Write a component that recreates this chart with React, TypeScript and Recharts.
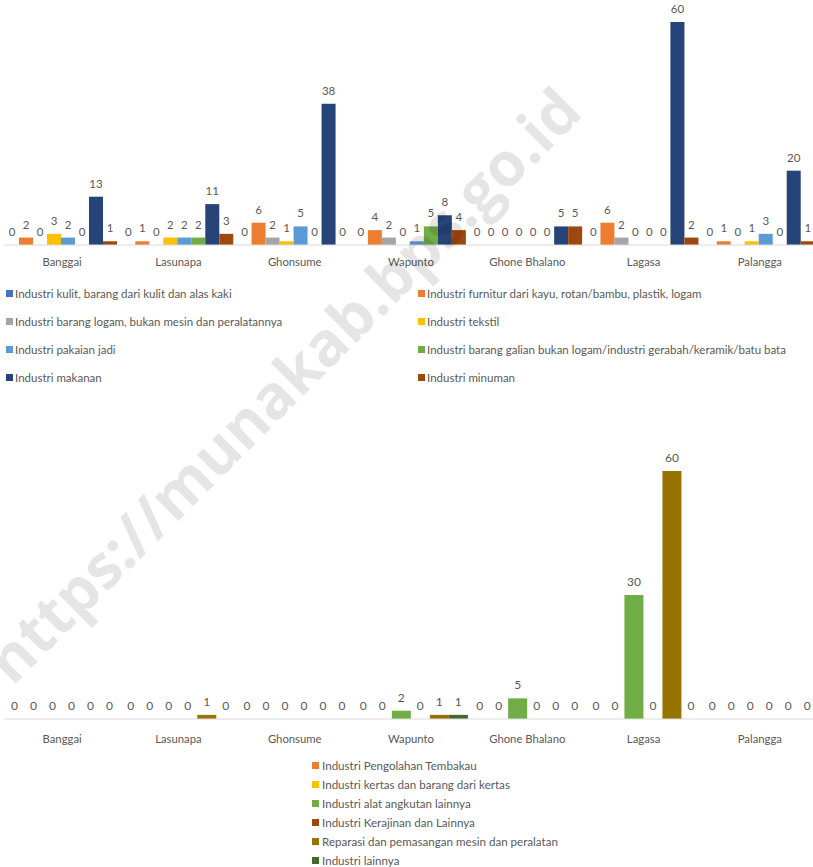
import React from 'react';
import { BarChart, Bar, XAxis, YAxis } from 'recharts';

const villages = ['Banggai', 'Lasunapa', 'Ghonsume', 'Wapunto', 'Ghone Bhalano', 'Lagasa', 'Palangga'];

// first chart: industries per village
const kulit = [0, 0, 0, 0, 0, 0, 0];
const furnitur = [2, 1, 6, 4, 0, 6, 1];
const logam = [0, 0, 2, 2, 0, 2, 0];
const tekstil = [3, 2, 1, 0, 0, 0, 1];
const pakaian = [2, 2, 5, 1, 0, 0, 3];
const galian = [0, 2, 0, 5, 0, 0, 0];
const makanan = [13, 11, 38, 8, 5, 60, 20];
const minuman = [1, 3, 0, 4, 5, 2, 1];

// second chart
const tembakau = [0, 0, 0, 0, 0, 0, 0];
const kertas = [0, 0, 0, 0, 0, 0, 0];
const angkutan = [0, 0, 0, 2, 5, 30, 0];
const kerajinan = [0, 0, 0, 0, 0, 0, 0];
const reparasi = [0, 1, 0, 1, 0, 60, 0];
const lainnya = [0, 0, 0, 1, 0, 0, 0];

const topSeries = [
  { key: 'kulit', name: 'Industri kulit, barang dari kulit dan alas kaki', values: kulit, color: '#4472C4' },
  { key: 'furnitur', name: 'Industri furnitur dari kayu, rotan/bambu, plastik, logam', values: furnitur, color: '#ED7D31' },
  { key: 'logam', name: 'Industri barang logam, bukan mesin dan peralatannya', values: logam, color: '#A5A5A5' },
  { key: 'tekstil', name: 'Industri tekstil', values: tekstil, color: '#FFC000' },
  { key: 'pakaian', name: 'Industri pakaian jadi', values: pakaian, color: '#5B9BD5' },
  { key: 'galian', name: 'Industri barang galian bukan logam/industri gerabah/keramik/batu bata', values: galian, color: '#70AD47' },
  { key: 'makanan', name: 'Industri makanan', values: makanan, color: '#264478' },
  { key: 'minuman', name: 'Industri minuman', values: minuman, color: '#9E480E' },
];

const bottomSeries = [
  { key: 'tembakau', name: 'Industri Pengolahan Tembakau', values: tembakau, color: '#ED7D31' },
  { key: 'kertas', name: 'Industri kertas dan barang dari kertas', values: kertas, color: '#FFC000' },
  { key: 'angkutan', name: 'Industri alat angkutan lainnya', values: angkutan, color: '#70AD47' },
  { key: 'kerajinan', name: 'Industri Kerajinan dan Lainnya', values: kerajinan, color: '#9E480E' },
  { key: 'reparasi', name: 'Reparasi dan pemasangan mesin dan peralatan', values: reparasi, color: '#997300' },
  { key: 'lainnya', name: 'Industri lainnya', values: lainnya, color: '#43682B' },
];

type Series = { key: string; name: string; values: number[]; color: string };

const buildRows = (series: Series[]) =>
  villages.map((v, i) => {
    const row: Record<string, string | number> = { name: v };
    series.forEach((s) => {
      row[s.key] = s.values[i];
    });
    return row;
  });

const FONT = 'Lato, "Noto Sans", sans-serif';
const TEXT = '#595959';

function VillageChart({ series, height, top, axisHeight, labelSize, tickMargin }: {
  series: Series[]; height: number; top: number; axisHeight: number; labelSize: number; tickMargin: number;
}) {
  // bar + its value label drawn together, so zero values still get their "0"
  const makeShape = (s: Series) => (p: any) => {
    const x = Number(p.x);
    const w = Number(p.width);
    const h = Number(p.height) || 0;
    const y = Number(p.y);
    const value = p.payload ? p.payload[s.key] : p.value;
    const topY = h >= 0 ? y : y + h;
    return (
      <g>
        {Math.abs(h) > 0 && <rect x={x} y={topY} width={w} height={Math.abs(h)} fill={s.color} />}
        <text x={x + w / 2} y={topY - 9} textAnchor="middle" fill={TEXT} fontSize={labelSize} fontFamily={FONT}>
          {String(value)}
        </text>
      </g>
    );
  };

  return (
    <BarChart
      width={818}
      height={height}
      data={buildRows(series)}
      margin={{ top, right: 0, bottom: 0, left: 4 }}
      barCategoryGap={1}
      barGap={0}
    >
      <XAxis
        dataKey="name"
        height={axisHeight}
        tickLine={false}
        axisLine={{ stroke: '#D9D9D9' }}
        tickMargin={tickMargin}
        tick={{ fill: TEXT, fontSize: 11.3, fontFamily: FONT }}
        interval={0}
      />
      <YAxis hide domain={[0, 60]} />
      {series.map((s) => (
        <Bar key={s.key} dataKey={s.key} fill={s.color} isAnimationActive={false} shape={makeShape(s)} />
      ))}
    </BarChart>
  );
}

export default function App() {
  return (
    <div style={{ position: 'absolute', left: 0, top: 0, width: 813, height: 867, background: '#fff', overflow: 'hidden', fontFamily: FONT }}>
      <div style={{ position: 'absolute', left: 0, top: 0 }}>
        <VillageChart series={topSeries} height={275} top={22} axisHeight={30} labelSize={11.5} tickMargin={7} />
      </div>

      {/* two-column legend for the top chart */}
      {topSeries.map((s, i) => (
        <div
          key={s.key}
          style={{
            position: 'absolute',
            left: i % 2 === 0 ? 6 : 418,
            top: 293 + Math.floor(i / 2) * 28 - 8,
            height: 16,
            display: 'flex',
            alignItems: 'center',
            fontSize: 11.5,
            color: TEXT,
            whiteSpace: 'nowrap',
          }}
        >
          <span style={{ width: 7, height: 7, background: s.color, marginRight: 2, display: 'inline-block' }} />
          {s.name}
        </div>
      ))}

      <div style={{ position: 'absolute', left: 0, top: 440 }}>
        <VillageChart series={bottomSeries} height={320} top={31} axisHeight={41} labelSize={12} tickMargin={10} />
      </div>

      {bottomSeries.map((s, i) => (
        <div
          key={s.key}
          style={{
            position: 'absolute',
            left: 312,
            top: 765 + i * 19 - 8,
            height: 16,
            display: 'flex',
            alignItems: 'center',
            fontSize: 11.6,
            color: TEXT,
            whiteSpace: 'nowrap',
          }}
        >
          <span style={{ width: 7, height: 7, background: s.color, marginRight: 3, display: 'inline-block' }} />
          {s.name}
        </div>
      ))}

      <div
        style={{
          position: 'absolute',
          left: 282,
          top: 384,
          transform: 'translate(-50%, -50%) rotate(-45deg)',
          fontSize: 61,
          fontWeight: 700,
          fontFamily: '"Open Sans", sans-serif',
          color: 'rgba(0,0,0,0.1)',
          whiteSpace: 'nowrap',
          pointerEvents: 'none',
        }}
      >
        https://munakab.bps.go.id
      </div>
    </div>
  );
}
